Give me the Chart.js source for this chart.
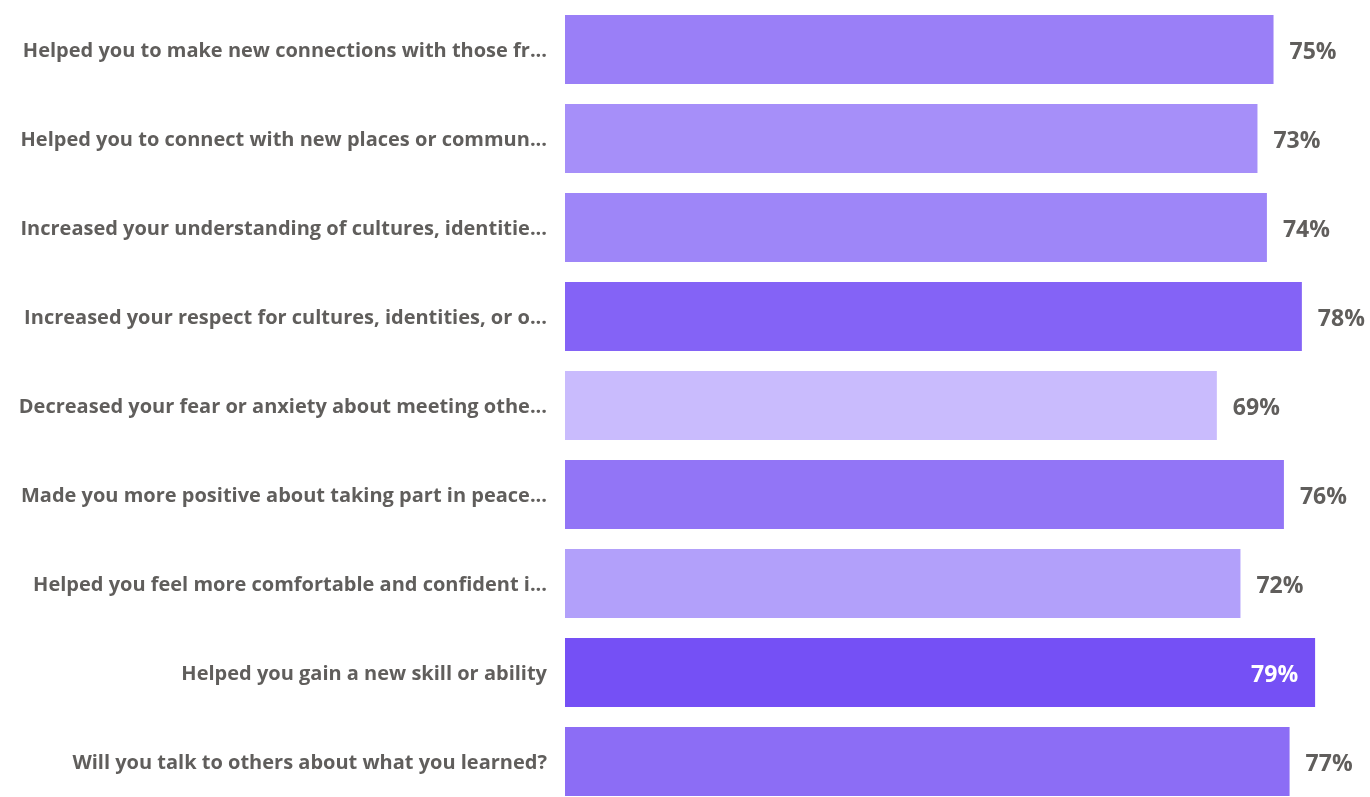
<!DOCTYPE html>
<html>
<head>
<meta charset="utf-8">
<script src="https://cdn.jsdelivr.net/npm/chart.js@4/dist/chart.umd.min.js"></script>
<style>
  html, body { margin: 0; padding: 0; background: #fff; overflow: hidden; }
  #wrap { width: 1370px; height: 810px; position: relative; }
</style>
</head>
<body>
<div id="wrap"><canvas id="c"></canvas></div>
<script>
const categories = [
  "Helped you to make new connections with those fr...",
  "Helped you to connect with new places or commun...",
  "Increased your understanding of cultures, identitie...",
  "Increased your respect for cultures, identities, or o...",
  "Decreased your fear or anxiety about meeting othe...",
  "Made you more positive about taking part in peace...",
  "Helped you feel more comfortable and confident i...",
  "Helped you gain a new skill or ability",
  "Will you talk to others about what you learned?"
];
const values = [75.0, 73.3, 74.3, 78.0, 69.0, 76.1, 71.5, 79.4, 76.7];
const barColors = ["#9a7ff7", "#a68ff9", "#9e86f8", "#8463f6", "#c9bbfd", "#9275f6", "#b2a0fa", "#7550f5", "#8c6df5"];
const labelInside = [false, false, false, false, false, false, false, true, false];

const TEXT = "#605e5c";
const FONT = "'Open Sans', 'Noto Sans', sans-serif";

const valueLabels = {
  id: 'valueLabels',
  afterDatasetsDraw(chart) {
    const ctx = chart.ctx;
    const meta = chart.getDatasetMeta(0);
    ctx.save();
    ctx.font = "bold 23px " + FONT;
    ctx.textBaseline = 'middle';
    meta.data.forEach((bar, i) => {
      const txt = Math.round(values[i]) + '%';
      if (labelInside[i]) {
        ctx.fillStyle = '#ffffff';
        ctx.textAlign = 'right';
        ctx.fillText(txt, bar.x - 17, bar.y + 3);
      } else {
        ctx.fillStyle = TEXT;
        ctx.textAlign = 'left';
        ctx.fillText(txt, bar.x + 16, bar.y + 3);
      }
    });
    ctx.restore();
  }
};

new Chart(document.getElementById('c'), {
  type: 'bar',
  data: {
    labels: categories,
    datasets: [{
      data: values,
      backgroundColor: barColors,
      borderWidth: 0,
      categoryPercentage: 1,
      barPercentage: 0.775
    }]
  },
  options: {
    indexAxis: 'y',
    responsive: true,
    maintainAspectRatio: false,
    animation: false,
    layout: { padding: { top: 5, bottom: 4, left: 0, right: 2 } },
    plugins: { legend: { display: false }, tooltip: { enabled: false } },
    scales: {
      x: { display: false, min: 0, max: 85 },
      y: {
        grid: { display: false, drawTicks: false },
        border: { display: false },
        ticks: {
          color: TEXT,
          padding: 18,
          labelOffset: 2,
          autoSkip: false,
          font: { family: FONT, size: 20, weight: 'bold' }
        },
        afterFit(scale) { scale.width = 565; scale.paddingTop = 0; scale.paddingBottom = 0; }
      }
    }
  },
  plugins: [valueLabels]
});
</script>
</body>
</html>
